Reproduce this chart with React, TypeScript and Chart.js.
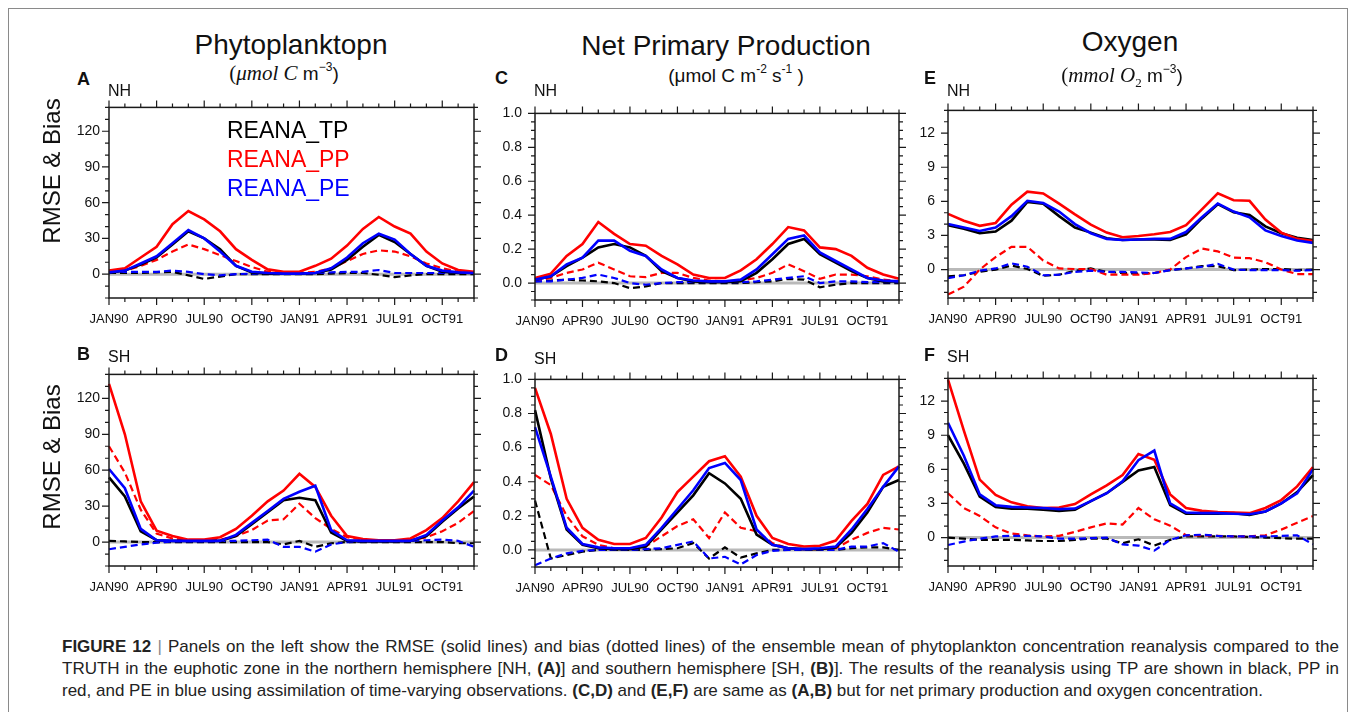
import React, { useEffect, useRef } from "react";
import { Chart, registerables } from "chart.js";

Chart.register(...registerables);

const FONT = '"Liberation Sans", Arial, Helvetica, sans-serif';
const SERIF = '"Liberation Serif", "DejaVu Serif", serif';

// ---------- categories / tick labels ----------
const MONTHS = [
  "JAN90", "FEB90", "MAR90", "APR90", "MAY90", "JUN90", "JUL90", "AUG90", "SEP90", "OCT90", "NOV90", "DEC90",
  "JAN91", "FEB91", "MAR91", "APR91", "MAY91", "JUN91", "JUL91", "AUG91", "SEP91", "OCT91", "NOV91", "DEC91",
];
const Y_TICKS_PHYTO = [0, 30, 60, 90, 120];
const Y_TICKS_NPP = [0, 0.2, 0.4, 0.6, 0.8, 1.0];
const Y_TICKS_OXY = [0, 3, 6, 9, 12];

// ---------- Panel A: phytoplankton NH ----------
const A_TP_RMSE = [1, 3, 8, 14, 25, 36, 30, 21, 7, 1.5, 0.5, 0.5, 0.5, 1, 4, 12, 23, 33, 27, 17, 7, 2, 1, 1];
const A_PP_RMSE = [3, 5, 14, 23, 42, 53, 46, 36, 21, 12, 4, 2, 2, 7, 13, 24, 38, 48, 40, 34, 19, 9, 3.5, 2];
const A_PE_RMSE = [1.5, 3, 9, 15, 26, 37, 30, 19, 7, 2, 1, 0.5, 0.5, 1, 5, 14, 26, 34, 29, 17, 7, 3, 1.5, 1];
const A_TP_BIAS = [1, 1, 1, 1.5, 2, -1, -4, -2, 0, 0, 0, 0, 0, 0, 0.5, 1, 1, -0.5, -2.5, -1, 0, 0, 0, 0];
const A_PP_BIAS = [2, 3, 7, 12, 19, 25, 21, 16, 11, 6, 2, 1, 1, 2, 5, 11, 17, 20, 19, 15, 9, 5, 2, 1];
const A_PE_BIAS = [2, 2, 2, 2, 3, 2, 0, -1, 0, 0.5, 0.5, 0.5, 0.5, 1, 1.5, 2, 2, 3.5, 1, 1, 1, 1, 1, 1];

// ---------- Panel B: phytoplankton SH ----------
const B_TP_RMSE = [54, 38, 9, 1.5, 1, 1, 1, 1, 5, 15, 25, 35, 37, 35, 8, 1, 0.5, 0.5, 0.5, 1, 5, 17, 28, 38];
const B_PP_RMSE = [132, 90, 34, 9.5, 5, 2, 2, 4, 11, 22, 34, 43, 57, 46, 22, 5, 2.5, 1.5, 1.5, 3, 10, 20, 34, 50];
const B_PE_RMSE = [61, 45, 11, 1.5, 1, 1, 1, 1, 6, 16, 26, 36, 42, 47, 10, 1.5, 1, 1, 1, 1, 6, 18, 29, 43];
const B_TP_BIAS = [1, 0.5, 0, 0, 0, 0, 0, 0, 0, 0, 0, -2, 1, -4, -1, 0, 0, 0, 0, 0, 0, 0, -1, -1];
const B_PP_BIAS = [80, 58, 27, 7, 3, 1.5, 1.5, 2, 5, 10, 18, 19, 32, 20, 11, 4, 2, 1, 1, 1.5, 4, 9, 16, 26];
const B_PE_BIAS = [-6, -4, -2, -0.5, 0.5, 0.5, 0.5, 1, 1, 1.5, 2, -4, -4, -8, -2, 0, 0.5, 0.5, 0.5, 1, 1.5, 2, 1, -4];

// ---------- Panel C: NPP NH ----------
const C_TP_RMSE = [0.02, 0.04, 0.1, 0.15, 0.21, 0.23, 0.21, 0.16, 0.07, 0.03, 0.01, 0.005, 0.005, 0.01, 0.06, 0.14, 0.23, 0.26, 0.17, 0.12, 0.07, 0.03, 0.01, 0.01];
const C_PP_RMSE = [0.03, 0.055, 0.16, 0.23, 0.36, 0.29, 0.23, 0.22, 0.16, 0.11, 0.05, 0.03, 0.03, 0.075, 0.14, 0.23, 0.33, 0.31, 0.21, 0.2, 0.16, 0.09, 0.05, 0.025];
const C_PE_RMSE = [0.02, 0.04, 0.11, 0.15, 0.25, 0.25, 0.19, 0.16, 0.08, 0.03, 0.015, 0.01, 0.01, 0.02, 0.08, 0.17, 0.26, 0.28, 0.18, 0.13, 0.08, 0.03, 0.015, 0.01];
const C_TP_BIAS = [0.01, 0.015, 0.02, 0.015, 0.01, 0, -0.03, -0.02, 0, 0, 0, 0, 0, 0, 0.005, 0.01, 0.025, 0.02, -0.025, -0.01, 0, 0, 0, 0];
const C_PP_BIAS = [0.01, 0.03, 0.06, 0.08, 0.12, 0.08, 0.04, 0.035, 0.06, 0.06, 0.03, 0.015, 0.01, 0.015, 0.03, 0.06, 0.11, 0.07, 0.025, 0.05, 0.05, 0.04, 0.02, 0.01];
const C_PE_BIAS = [0.01, 0.01, 0.02, 0.03, 0.05, 0.03, 0, -0.01, 0, 0.005, 0.005, 0.005, 0.005, 0.005, 0.01, 0.02, 0.03, 0.04, 0, 0.01, 0.01, 0.005, 0.005, 0.005];

// ---------- Panel D: NPP SH ----------
const D_TP_RMSE = [0.82, 0.42, 0.12, 0.03, 0.01, 0.005, 0.005, 0.02, 0.12, 0.22, 0.32, 0.45, 0.39, 0.3, 0.09, 0.03, 0.01, 0.005, 0.005, 0.015, 0.1, 0.22, 0.37, 0.41];
const D_PP_RMSE = [0.95, 0.68, 0.3, 0.13, 0.06, 0.035, 0.035, 0.07, 0.19, 0.34, 0.43, 0.52, 0.55, 0.43, 0.2, 0.07, 0.035, 0.02, 0.025, 0.055, 0.17, 0.27, 0.44, 0.49];
const D_PE_RMSE = [0.72, 0.43, 0.13, 0.035, 0.015, 0.01, 0.01, 0.03, 0.13, 0.24, 0.35, 0.48, 0.51, 0.41, 0.12, 0.03, 0.01, 0.005, 0.01, 0.02, 0.12, 0.24, 0.37, 0.49];
const D_TP_BIAS = [0.29, -0.05, -0.03, -0.01, 0, 0, 0, 0, 0.005, 0.01, 0.04, -0.05, 0.015, -0.045, -0.02, 0, 0, 0, 0, 0, 0.01, 0.015, 0.015, 0];
const D_PP_BIAS = [0.44, 0.38, 0.2, 0.08, 0.03, 0.01, 0.01, 0.02, 0.08, 0.14, 0.18, 0.07, 0.22, 0.13, 0.11, 0.04, 0.01, 0.005, 0.005, 0.01, 0.06, 0.1, 0.13, 0.12];
const D_PE_BIAS = [-0.09, -0.05, -0.02, -0.005, 0, 0, 0, 0.005, 0.01, 0.03, 0.05, -0.05, -0.04, -0.085, -0.03, -0.005, 0, 0, 0, 0, 0.02, 0.02, 0.04, -0.01];

// ---------- Panel E: oxygen NH ----------
const E_TP_RMSE = [3.9, 3.6, 3.2, 3.35, 4.3, 5.95, 5.8, 4.7, 3.7, 3.25, 2.75, 2.6, 2.65, 2.65, 2.6, 3.1, 4.5, 5.75, 5.05, 4.8, 3.8, 3.2, 2.8, 2.6];
const E_PP_RMSE = [4.9, 4.3, 3.85, 4.1, 5.7, 6.85, 6.7, 5.8, 4.85, 3.95, 3.25, 2.85, 2.95, 3.1, 3.3, 3.9, 5.3, 6.7, 6.1, 6.05, 4.4, 3.25, 2.7, 2.5];
const E_PE_RMSE = [4.0, 3.7, 3.4, 3.7, 4.7, 6.05, 5.85, 5.1, 4.0, 3.2, 2.7, 2.6, 2.65, 2.7, 2.7, 3.3, 4.6, 5.8, 5.1, 4.6, 3.45, 2.95, 2.55, 2.35];
const E_TP_BIAS = [-0.6, -0.5, -0.2, 0, 0.35, 0.05, -0.55, -0.45, -0.1, 0.1, -0.2, -0.3, -0.35, -0.3, -0.05, 0.1, 0.3, 0.3, -0.05, 0, 0.05, 0.05, -0.05, 0];
const E_PP_BIAS = [-2.2, -1.5, 0, 1.1, 2.0, 2.0, 0.8, 0.1, 0.05, 0.05, -0.45, -0.45, -0.45, -0.3, 0, 1.1, 1.85, 1.6, 1.05, 1.0, 0.65, 0, -0.4, -0.4];
const E_PE_BIAS = [-0.75, -0.5, -0.1, 0.1, 0.55, 0.25, -0.5, -0.45, -0.2, -0.1, -0.2, -0.2, -0.25, -0.3, -0.05, 0.1, 0.25, 0.5, 0, -0.05, -0.05, -0.05, -0.1, -0.05];

// ---------- Panel F: oxygen SH ----------
const F_TP_RMSE = [9.0, 6.5, 3.6, 2.7, 2.55, 2.55, 2.45, 2.35, 2.45, 3.2, 3.9, 4.9, 5.9, 6.2, 2.85, 2.1, 2.1, 2.1, 2.15, 2.0, 2.3, 3.0, 4.0, 5.5];
const F_PP_RMSE = [13.9, 9.4, 5.1, 3.75, 3.1, 2.75, 2.6, 2.65, 2.95, 3.8, 4.6, 5.5, 7.35, 6.85, 3.8, 2.6, 2.35, 2.25, 2.2, 2.15, 2.6, 3.3, 4.5, 6.2];
const F_PE_RMSE = [10.1, 7.2, 3.8, 2.85, 2.7, 2.65, 2.6, 2.5, 2.55, 3.2, 3.9, 4.95, 6.8, 7.65, 3.0, 2.2, 2.15, 2.15, 2.1, 2.05, 2.3, 3.0, 3.9, 6.0];
const F_TP_BIAS = [0, -0.1, -0.2, -0.2, -0.2, -0.25, -0.3, -0.3, -0.2, -0.1, -0.1, -0.5, -0.15, -0.7, -0.2, 0.1, 0.1, 0.1, 0.1, 0.05, 0, -0.05, -0.1, -0.1];
const F_PP_BIAS = [3.9, 2.6, 1.9, 0.9, 0.35, 0.2, 0.1, 0.15, 0.5, 0.9, 1.25, 1.15, 2.6, 1.6, 1.05, 0.2, 0.2, 0.15, 0.1, 0.1, 0.2, 0.7, 1.3, 1.9];
const F_PE_BIAS = [-0.65, -0.35, -0.1, 0.1, 0.15, 0.15, 0.1, -0.1, -0.1, -0.05, 0, -0.6, -0.7, -1.15, -0.2, 0.2, 0.25, 0.15, 0.1, 0.1, 0.1, 0.15, 0.2, -0.6];

const BLACK = "#000000";
const RED = "#ff0000";
const BLUE = "#0000ff";

type PanelCfg = {
  left: number; top: number; w: number; h: number;
  min: number; max: number; major: number; minor: number;
  ticks: number[]; decimals: number; labelPad: number;
  tp: number[]; pp: number[]; pe: number[];
  tpB: number[]; ppB: number[]; peB: number[];
};

const PANELS: PanelCfg[] = [
  { left: 109, top: 104, w: 365, h: 194, min: -20, max: 140, major: 30, minor: 10, ticks: Y_TICKS_PHYTO, decimals: 0, labelPad: 9,
    tp: A_TP_RMSE, pp: A_PP_RMSE, pe: A_PE_RMSE, tpB: A_TP_BIAS, ppB: A_PP_BIAS, peB: A_PE_BIAS },
  { left: 109, top: 371, w: 365, h: 195, min: -20, max: 140, major: 30, minor: 10, ticks: Y_TICKS_PHYTO, decimals: 0, labelPad: 9,
    tp: B_TP_RMSE, pp: B_PP_RMSE, pe: B_PE_RMSE, tpB: B_TP_BIAS, ppB: B_PP_BIAS, peB: B_PE_BIAS },
  { left: 535, top: 106, w: 364, h: 194, min: -0.1, max: 1.0, major: 0.2, minor: 0.05, ticks: Y_TICKS_NPP, decimals: 1, labelPad: 13,
    tp: C_TP_RMSE, pp: C_PP_RMSE, pe: C_PE_RMSE, tpB: C_TP_BIAS, ppB: C_PP_BIAS, peB: C_PE_BIAS },
  { left: 535, top: 372, w: 364, h: 195, min: -0.1, max: 1.0, major: 0.2, minor: 0.05, ticks: Y_TICKS_NPP, decimals: 1, labelPad: 13,
    tp: D_TP_RMSE, pp: D_PP_RMSE, pe: D_PE_RMSE, tpB: D_TP_BIAS, ppB: D_PP_BIAS, peB: D_PE_BIAS },
  { left: 948, top: 103, w: 365, h: 195, min: -2.5, max: 14, major: 3, minor: 1, ticks: Y_TICKS_OXY, decimals: 0, labelPad: 13,
    tp: E_TP_RMSE, pp: E_PP_RMSE, pe: E_PE_RMSE, tpB: E_TP_BIAS, ppB: E_PP_BIAS, peB: E_PE_BIAS },
  { left: 948, top: 371, w: 365, h: 195, min: -2.5, max: 14, major: 3, minor: 1, ticks: Y_TICKS_OXY, decimals: 0, labelPad: 13,
    tp: F_TP_RMSE, pp: F_PP_RMSE, pe: F_PE_RMSE, tpB: F_TP_BIAS, ppB: F_PP_BIAS, peB: F_PE_BIAS },
];

const PAD_L = 60, PAD_T = 14, PAD_R = 20, PAD_B = 45;

const frameTicks = {
  id: "frameTicks",
  beforeDatasetsDraw(chart: any) {
    const { ctx, chartArea: a, scales } = chart;
    const y0 = scales.y.getPixelForValue(0);
    ctx.save();
    ctx.strokeStyle = "#b9b9b9";
    ctx.lineWidth = 3;
    ctx.beginPath();
    ctx.moveTo(a.left, y0);
    ctx.lineTo(a.right, y0);
    ctx.stroke();
    ctx.restore();
  },
  afterDraw(chart: any, _args: any, opts: any) {
    const { ctx, chartArea: a, scales } = chart;
    const x = scales.x, y = scales.y;
    ctx.save();
    ctx.strokeStyle = "#1a1a1a";
    ctx.lineWidth = 1.5;
    ctx.strokeRect(a.left, a.top, a.right - a.left, a.bottom - a.top);
    ctx.lineWidth = 1.2;
    ctx.beginPath();
    for (let i = 0; i < MONTHS.length; i++) {
      const px = x.getPixelForValue(i);
      const len = i % 3 === 0 ? 7 : 4;
      ctx.moveTo(px, a.top); ctx.lineTo(px, a.top - len);
      ctx.moveTo(px, a.bottom); ctx.lineTo(px, a.bottom + len);
    }
    const start = Math.ceil(opts.min / opts.minor - 1e-9);
    const end = Math.floor(opts.max / opts.minor + 1e-9);
    for (let k = start; k <= end; k++) {
      const v = k * opts.minor;
      const r = v / opts.major;
      const isMajor = Math.abs(r - Math.round(r)) < 1e-6;
      const len = isMajor ? 7 : 4;
      const py = y.getPixelForValue(v);
      ctx.moveTo(a.left, py); ctx.lineTo(a.left - len, py);
      ctx.moveTo(a.right, py); ctx.lineTo(a.right + len, py);
    }
    ctx.stroke();
    ctx.restore();
  },
};

function Panel({ cfg }: { cfg: PanelCfg }) {
  const ref = useRef<HTMLCanvasElement>(null);
  const W = cfg.w + PAD_L + PAD_R;
  const H = cfg.h + PAD_T + PAD_B;
  useEffect(() => {
    if (!ref.current) return;
    const solid = (label: string, data: number[], color: string) => ({
      label, data, borderColor: color, backgroundColor: color, borderWidth: 2.6,
      pointRadius: 0, tension: 0, fill: false,
    });
    const dashed = (label: string, data: number[], color: string) => ({
      label, data, borderColor: color, backgroundColor: color, borderWidth: 2.2,
      borderDash: [7, 4], pointRadius: 0, tension: 0, fill: false,
    });
    const chart = new Chart(ref.current, {
      type: "line",
      data: {
        labels: MONTHS,
        datasets: [
          solid("REANA_PE RMSE", cfg.pe, BLUE),
          solid("REANA_PP RMSE", cfg.pp, RED),
          solid("REANA_TP RMSE", cfg.tp, BLACK),
          dashed("REANA_PE bias", cfg.peB, BLUE),
          dashed("REANA_PP bias", cfg.ppB, RED),
          dashed("REANA_TP bias", cfg.tpB, BLACK),
        ] as any,
      },
      options: {
        responsive: false,
        animation: false,
        devicePixelRatio: 1,
        layout: { padding: { left: 0, top: PAD_T, right: PAD_R, bottom: 0 } },
        plugins: {
          legend: { display: false },
          tooltip: { enabled: false },
          frameTicks: { min: cfg.min, max: cfg.max, major: cfg.major, minor: cfg.minor },
        } as any,
        scales: {
          x: {
            type: "category",
            offset: false,
            grid: { display: false, drawTicks: false },
            border: { display: false },
            ticks: {
              autoSkip: false, maxRotation: 0, minRotation: 0, padding: 14,
              color: "#111", font: { family: FONT, size: 13 },
              callback: (_v: any, i: number) => (i % 3 === 0 ? MONTHS[i] : ""),
            },
            afterFit: (s: any) => { s.height = PAD_B; },
          },
          y: {
            type: "linear",
            min: cfg.min,
            max: cfg.max,
            grid: { display: false, drawTicks: false },
            border: { display: false },
            ticks: {
              padding: cfg.labelPad, color: "#111", font: { family: FONT, size: 14 },
              callback: (v: any) => Number(v).toFixed(cfg.decimals),
            },
            afterBuildTicks: (s: any) => { s.ticks = cfg.ticks.map((v) => ({ value: v })); },
            afterFit: (s: any) => { s.width = PAD_L; },
          },
        },
      } as any,
      plugins: [frameTicks],
    });
    return () => chart.destroy();
  }, []);
  return (
    <canvas
      ref={ref}
      width={W}
      height={H}
      style={{ position: "absolute", left: cfg.left - PAD_L, top: cfg.top - PAD_T, width: W, height: H }}
    />
  );
}

function T(props: {
  x: number; y: number; size: number; anchor?: "start" | "middle" | "end";
  bold?: boolean; italic?: boolean; family?: string; color?: string; children: any;
}) {
  const { x, y, size, anchor = "start", bold, italic, family, color = "#111", children } = props;
  const tx = anchor === "middle" ? "-50%" : anchor === "end" ? "-100%" : "0";
  return (
    <div
      style={{
        position: "absolute", left: x, top: y - 0.8465 * size, fontSize: size, lineHeight: `${size}px`,
        whiteSpace: "nowrap", transform: `translateX(${tx})`, fontWeight: bold ? 700 : 400,
        fontStyle: italic ? "italic" : "normal", fontFamily: family || FONT, color,
      }}
    >
      {children}
    </div>
  );
}

const Sup = ({ children, size }: { children: any; size: number }) => (
  <span style={{ fontSize: size, position: "relative", top: -size * 0.75, lineHeight: 0 }}>{children}</span>
);
const Sub = ({ children, size }: { children: any; size: number }) => (
  <span style={{ fontSize: size, position: "relative", top: size * 0.35, lineHeight: 0 }}>{children}</span>
);

function YTitle({ cx, cy }: { cx: number; cy: number }) {
  return (
    <div
      style={{
        position: "absolute", left: cx, top: cy, fontSize: 24, lineHeight: "24px", fontFamily: FONT,
        whiteSpace: "nowrap", color: "#111", transform: "translate(-50%, -50%) rotate(-90deg)",
      }}
    >
      RMSE &amp; Bias
    </div>
  );
}

export default function App() {
  const capStyle: React.CSSProperties = {
    position: "absolute", left: 62, width: 1277, fontSize: 17, lineHeight: "17px", fontFamily: FONT,
    color: "#222", whiteSpace: "nowrap",
  };
  const justify: React.CSSProperties = { textAlign: "justify", textAlignLast: "justify" as any };
  return (
    <div style={{ position: "absolute", left: 0, top: 0, width: 1355, height: 712, background: "#fff", overflow: "hidden", fontFamily: FONT }}>
      <div style={{ position: "absolute", left: 8, top: 8, width: 1338, height: 720, borderTop: "1px solid #8a8a8a", borderLeft: "1px solid #8a8a8a", borderRight: "1px solid #8a8a8a" }} />

      {PANELS.map((p, i) => <Panel key={i} cfg={p} />)}

      {/* column titles */}
      <T x={291} y={55} size={28} anchor="middle">Phytoplanktopn</T>
      <T x={726} y={56} size={28} anchor="middle">Net Primary Production</T>
      <T x={1130} y={52} size={28} anchor="middle">Oxygen</T>

      {/* units */}
      <T x={284} y={81} size={21} anchor="middle" family={SERIF}>
        (<i>μmol C</i><span style={{ fontFamily: FONT, fontSize: 19 }}> m<Sup size={12}>−3</Sup>)</span>
      </T>
      <T x={736} y={82} size={19} anchor="middle">
        (μmol C m<Sup size={12}>-2</Sup> s<Sup size={12}>-1</Sup> )
      </T>
      <T x={1122} y={83} size={21} anchor="middle" family={SERIF}>
        (<i>mmol O</i><Sub size={13}>2</Sub><span style={{ fontFamily: FONT, fontSize: 19 }}> m<Sup size={12}>−3</Sup>)</span>
      </T>

      {/* panel letters */}
      <T x={77} y={85} size={18} bold>A</T>
      <T x={77} y={360} size={18} bold>B</T>
      <T x={495} y={84} size={18} bold>C</T>
      <T x={495} y={361} size={18} bold>D</T>
      <T x={924} y={84} size={18} bold>E</T>
      <T x={924} y={361} size={18} bold>F</T>

      {/* hemisphere tags */}
      <T x={108} y={97} size={16}>NH</T>
      <T x={108} y={363} size={16}>SH</T>
      <T x={534} y={97} size={16}>NH</T>
      <T x={534} y={365} size={16}>SH</T>
      <T x={947} y={97} size={16}>NH</T>
      <T x={947} y={363} size={16}>SH</T>

      {/* y titles */}
      <YTitle cx={52} cy={171} />
      <YTitle cx={52} cy={457} />

      {/* legend */}
      <T x={227} y={138} size={23} color={BLACK}>REANA_TP</T>
      <T x={227} y={167} size={23} color={RED}>REANA_PP</T>
      <T x={227} y={196} size={23} color={BLUE}>REANA_PE</T>

      {/* caption */}
      <div style={{ ...capStyle, ...justify, top: 652 - 14.4 }}>
        <b>FIGURE 12</b> <span style={{ color: "#888" }}>|</span> Panels on the left show the RMSE (solid lines) and bias (dotted lines) of the ensemble mean of phytoplankton concentration reanalysis compared to the
      </div>
      <div style={{ ...capStyle, ...justify, top: 674 - 14.4 }}>
        TRUTH in the euphotic zone in the northern hemisphere [NH, <b>(A)</b>] and southern hemisphere [SH, <b>(B)</b>]. The results of the reanalysis using TP are shown in black, PP in
      </div>
      <div style={{ ...capStyle, top: 696 - 14.4 }}>
        red, and PE in blue using assimilation of time-varying observations. <b>(C,D)</b> and <b>(E,F)</b> are same as <b>(A,B)</b> but for net primary production and oxygen concentration.
      </div>
    </div>
  );
}
